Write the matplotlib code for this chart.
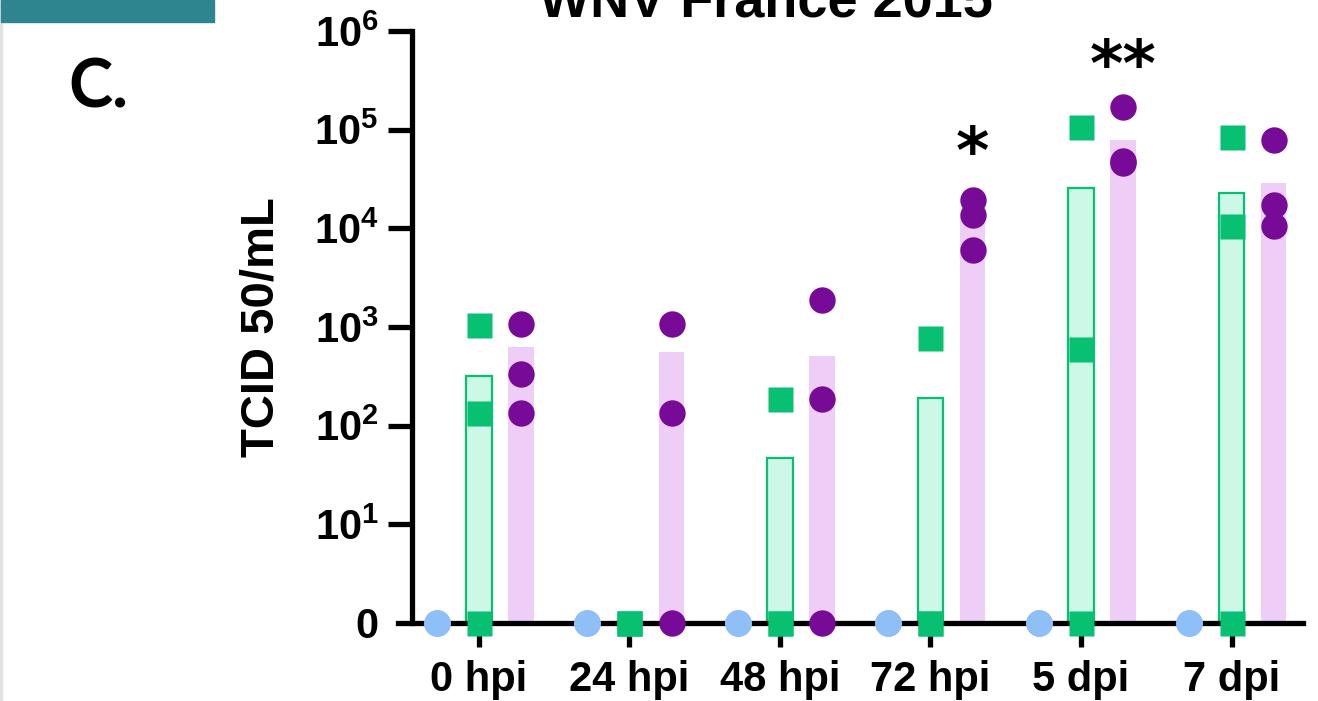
import numpy as np
import matplotlib.pyplot as plt
from matplotlib.patches import Rectangle

# ======================
# Data (TCID50/mL, 0 = not detected)
# ======================
timepoints = ['0 hpi', '24 hpi', '48 hpi', '72 hpi', '5 dpi', '7 dpi']

mock_pts = [[0, 0, 0], [0, 0, 0], [0, 0, 0],
            [0, 0, 0], [0, 0, 0], [0, 0, 0]]

green_pts = [[1050, 135, 0], [0, 0, 0], [185, 0, 0],
             [780, 0, 0], [106000, 600, 0], [85000, 10500, 0]]
green_mean = [318, 0, 47, 190, 25700, 22900]

purple_pts = [[1070, 333, 134], [1070, 134, 0], [1880, 186, 0],
              [19400, 13600, 6000], [170000, 48000, 46000], [78500, 17300, 10500]]
purple_mean = [627, 560, 508, 13000, 78500, 28800]

stars = ['', '', '', '*', '**', '']
star_y = [0, 0, 0, 56000, 420000, 0]

# ======================
# Style
# ======================
C_MOCK = '#8fbff7'
C_GREEN = '#07c072'
C_GREEN_FILL = '#cdf7e6'
C_PURPLE = '#770a96'
C_PURPLE_FILL = '#eecdf7'

plt.rcParams['font.family'] = ['Liberation Sans', 'DejaVu Sans']
plt.rcParams['font.weight'] = 'bold'
plt.rcParams['mathtext.fontset'] = 'custom'
plt.rcParams['mathtext.rm'] = 'Liberation Sans:bold'
plt.rcParams['mathtext.bf'] = 'Liberation Sans:bold'

fig = plt.figure(figsize=(13.18, 7.01), dpi=100)
ax = fig.add_axes([398 / 1318, 1 - 623 / 701, 905 / 1318, 592 / 701])

x = np.arange(len(timepoints))
OFF = 0.28
W = 0.17


def zero_floor(v):
    # zeros are drawn on the "0" baseline of the log axis
    v = np.asarray(v, dtype=float)
    return np.where(v > 0, v, 1.0)


# ---------- bars ----------
gm = zero_floor(green_mean)
pm = zero_floor(purple_mean)
for i in x:
    if gm[i] > 1:
        ax.bar(i, gm[i] - 1, bottom=1, width=W, color=C_GREEN_FILL,
               edgecolor=C_GREEN, linewidth=1.6, zorder=1)
    if pm[i] > 1:
        ax.bar(i + OFF, pm[i] - 1, bottom=1, width=W, color=C_PURPLE_FILL,
               edgecolor='none', zorder=1)

# ---------- points ----------
for i in x:
    ax.plot([i - OFF] * 3, zero_floor(mock_pts[i]), 'o', ms=19, color=C_MOCK,
            mec='none', clip_on=False, zorder=4)
    ax.plot([i] * 3, zero_floor(green_pts[i]), 's', ms=18, color=C_GREEN,
            mec='none', clip_on=False, zorder=4)
    ax.plot([i + OFF] * 3, zero_floor(purple_pts[i]), 'o', ms=19, color=C_PURPLE,
            mec='none', clip_on=False, zorder=4)

# ---------- significance ----------
for i in x:
    if stars[i]:
        ax.text(i + OFF, star_y[i], stars[i], ha='center', va='center',
                fontsize=46, family='DejaVu Sans', weight='bold')

# ---------- axes ----------
ax.set_yscale('log')
ax.set_ylim(1, 1e6)
ax.set_xlim(-0.538, 5.475)

yt = [1, 1e1, 1e2, 1e3, 1e4, 1e5, 1e6]
ax.set_yticks(yt)
ax.set_yticklabels(['0'] + [r'$\mathbf{10^{%d}}$' % k for k in range(1, 7)])
ax.yaxis.set_minor_locator(plt.NullLocator())
ax.set_xticks(x)
ax.set_xticklabels(timepoints)

for s in ['top', 'right']:
    ax.spines[s].set_visible(False)
ax.spines['left'].set_position(('data', -0.445))
ax.spines['left'].set_linewidth(3.8)
ax.spines['bottom'].set_linewidth(3.8)
ax.tick_params(axis='both', length=17, width=3.8, labelsize=30)
ax.tick_params(axis='x', pad=10)
ax.tick_params(axis='y', pad=7)
ax.yaxis.get_major_ticks()[0].tick1line.set_visible(False)

ax.set_ylabel('TCID 50/mL', fontsize=34, weight='bold')
ax.yaxis.set_label_coords(-0.127, 0.5)

# ---------- slide decoration ----------
fig.patches.append(Rectangle((0, 0), 2 / 1318, 1, transform=fig.transFigure,
                             color='#e2e2e2', zorder=0))
fig.patches.append(Rectangle((1 / 1318, 1 - 22 / 701), 213 / 1318, 22 / 701,
                             transform=fig.transFigure, color='#2e8590', zorder=1))
fig.text(68 / 1318, 1 - 108 / 701, 'C.', ha='left', va='baseline',
         fontsize=48, family='Lato', weight='bold')
fig.text(766 / 1318, 1 - 17 / 701, 'WNV France 2015', ha='center', va='baseline',
         fontsize=39, weight='bold')

fig.savefig('out.png', dpi=100)
